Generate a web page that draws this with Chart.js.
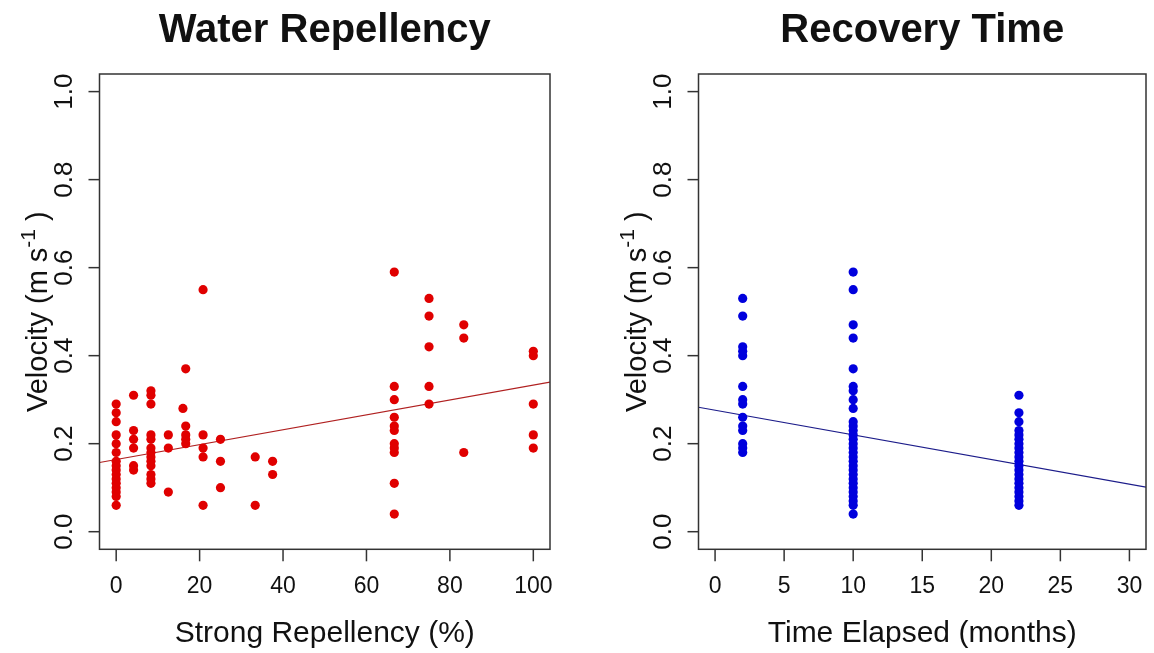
<!DOCTYPE html>
<html>
<head>
<meta charset="utf-8">
<script src="https://cdn.jsdelivr.net/npm/chart.js@4"></script>
<style>
  html, body { margin: 0; padding: 0; background: #fff; }
  #wrap { position: relative; width: 1154px; height: 653px; }
  canvas { position: absolute; top: 0; }
  #repChart { left: 0; }
  #timeChart { left: 577px; }
</style>
</head>
<body>
<div id="wrap">
  <canvas id="repChart" width="577" height="653"></canvas>
  <canvas id="timeChart" width="577" height="653"></canvas>
</div>
<script>
// left panel: velocity grouped by strong repellency (%)
const repellencyLevels = [0, 4.17, 8.33, 12.5, 16, 16.67, 20.83, 25, 33.33, 37.5, 66.67, 75, 83.33, 100];
const repellencyVelocity = [
  [0.29, 0.27, 0.25, 0.22, 0.20, 0.18, 0.16, 0.15, 0.14, 0.13, 0.12, 0.11, 0.10, 0.09, 0.08, 0.06],
  [0.31, 0.23, 0.21, 0.19, 0.15, 0.14],
  [0.32, 0.31, 0.29, 0.22, 0.21, 0.19, 0.18, 0.17, 0.16, 0.15, 0.13, 0.12, 0.11],
  [0.22, 0.19, 0.09],
  [0.28],
  [0.37, 0.24, 0.22, 0.21, 0.20],
  [0.55, 0.22, 0.19, 0.17, 0.06],
  [0.21, 0.16, 0.10],
  [0.17, 0.06],
  [0.16, 0.13],
  [0.59, 0.33, 0.30, 0.26, 0.24, 0.23, 0.20, 0.19, 0.18, 0.11, 0.04],
  [0.53, 0.49, 0.42, 0.33, 0.29],
  [0.47, 0.44, 0.18],
  [0.41, 0.40, 0.29, 0.22, 0.19]
];
const repellencyIntercept = 0.164;
const repellencySlope = 0.00169;

// right panel: velocity grouped by months elapsed
const elapsedMonths = [2, 10, 22];
const monthVelocity = [
  [0.53, 0.49, 0.42, 0.41, 0.40, 0.33, 0.30, 0.29, 0.26, 0.24, 0.23, 0.20, 0.19, 0.18],
  [0.59, 0.55, 0.47, 0.44, 0.37, 0.33, 0.32, 0.30, 0.28, 0.25, 0.24, 0.23, 0.22, 0.21, 0.20,
   0.19, 0.18, 0.17, 0.16, 0.15, 0.14, 0.13, 0.12, 0.11, 0.10, 0.09, 0.08, 0.07, 0.06, 0.04],
  [0.31, 0.27, 0.25, 0.23, 0.22, 0.21, 0.20, 0.19, 0.18, 0.17, 0.16, 0.15, 0.14, 0.13, 0.12,
   0.11, 0.10, 0.09, 0.08, 0.07, 0.06]
];
const timeIntercept = 0.276;
const timeSlope = -0.0056;

const velocityTicks = [0, 0.2, 0.4, 0.6, 0.8, 1.0];
const repellencyTicks = [0, 20, 40, 60, 80, 100];
const monthTicks = [0, 5, 10, 15, 20, 25, 30];

const FONT = '"Liberation Sans", Arial, Helvetica, sans-serif';

function toPoints(levels, groups) {
  const pts = [];
  levels.forEach((lvl, i) => groups[i].forEach(v => pts.push({ x: lvl, y: v })));
  return pts;
}

// R style box, ticks and labels drawn on top of the chart
function rAxes(cfg) {
  return {
    id: 'rAxes',
    afterDraw(chart) {
      const { ctx, chartArea: a, scales: { x, y } } = chart;
      ctx.save();
      ctx.strokeStyle = '#333';
      ctx.lineWidth = 1.5;
      ctx.strokeRect(a.left, a.top, a.right - a.left, a.bottom - a.top);

      ctx.fillStyle = '#111';
      ctx.font = '23px ' + FONT;
      ctx.textAlign = 'center';
      ctx.textBaseline = 'alphabetic';
      cfg.xTicks.forEach(v => {
        const px = x.getPixelForValue(v);
        ctx.beginPath();
        ctx.moveTo(px, a.bottom);
        ctx.lineTo(px, a.bottom + 12);
        ctx.stroke();
        ctx.fillText(String(v), px, a.bottom + 44);
      });
      ctx.font = '26px ' + FONT;
      cfg.yTicks.forEach(v => {
        const py = y.getPixelForValue(v);
        ctx.beginPath();
        ctx.moveTo(a.left - 11, py);
        ctx.lineTo(a.left, py);
        ctx.stroke();
        ctx.save();
        ctx.translate(a.left - 28, py);
        ctx.rotate(-Math.PI / 2);
        ctx.fillText(v.toFixed(1), 0, 0);
        ctx.restore();
      });

      const cx = (a.left + a.right) / 2;
      ctx.font = 'bold 40px ' + FONT;
      ctx.fillText(cfg.title, cx, 42);

      ctx.font = '30px ' + FONT;
      ctx.fillText(cfg.xTitle, cx, 642);

      // y title with superscript
      const cy = (a.top + a.bottom) / 2;
      const main = 'Velocity (m s', sup = '-1', tail = ' )';
      ctx.font = '29px ' + FONT;
      const wMain = ctx.measureText(main).width;
      const wTail = ctx.measureText(tail).width;
      ctx.font = '21px ' + FONT;
      const wSup = ctx.measureText(sup).width;
      const total = wMain + wSup + wTail;
      ctx.save();
      ctx.translate(a.left - 53, cy);
      ctx.rotate(-Math.PI / 2);
      ctx.textAlign = 'left';
      let sx = -total / 2;
      ctx.font = '29px ' + FONT;
      ctx.fillText(main, sx, 0);
      sx += wMain;
      ctx.font = '21px ' + FONT;
      ctx.fillText(sup, sx, -12);
      sx += wSup;
      ctx.font = '29px ' + FONT;
      ctx.fillText(tail, sx, 0);
      ctx.restore();

      ctx.restore();
    }
  };
}

function makePanel(id, cfg) {
  return new Chart(document.getElementById(id), {
    type: 'scatter',
    data: {
      datasets: [
        {
          data: cfg.points,
          pointRadius: 4.6,
          pointHoverRadius: 4.6,
          pointBackgroundColor: cfg.color,
          pointBorderWidth: 0
        },
        {
          type: 'line',
          data: [
            { x: cfg.xMin, y: cfg.intercept + cfg.slope * cfg.xMin },
            { x: cfg.xMax, y: cfg.intercept + cfg.slope * cfg.xMax }
          ],
          borderColor: cfg.lineColor,
          borderWidth: 1.2,
          pointRadius: 0,
          fill: false
        }
      ]
    },
    options: {
      responsive: false,
      animation: false,
      devicePixelRatio: 1,
      layout: { padding: cfg.padding },
      plugins: { legend: { display: false }, tooltip: { enabled: false } },
      scales: {
        x: { type: 'linear', min: cfg.xMin, max: cfg.xMax, display: false },
        y: { type: 'linear', min: -0.04, max: 1.04, display: false }
      }
    },
    plugins: [rAxes(cfg)]
  });
}

makePanel('repChart', {
  points: toPoints(repellencyLevels, repellencyVelocity),
  color: '#e00000',
  lineColor: '#b02020',
  intercept: repellencyIntercept,
  slope: repellencySlope,
  xMin: -4, xMax: 104,
  xTicks: repellencyTicks,
  yTicks: velocityTicks,
  title: 'Water Repellency',
  xTitle: 'Strong Repellency (%)',
  padding: { left: 99.5, right: 27, top: 74, bottom: 103.7 }
});

makePanel('timeChart', {
  points: toPoints(elapsedMonths, monthVelocity),
  color: '#0000dd',
  lineColor: '#1c1c8a',
  intercept: timeIntercept,
  slope: timeSlope,
  xMin: -1.2, xMax: 31.2,
  xTicks: monthTicks,
  yTicks: velocityTicks,
  title: 'Recovery Time',
  xTitle: 'Time Elapsed (months)',
  padding: { left: 121.5, right: 8, top: 74, bottom: 103.7 }
});
</script>
</body>
</html>
